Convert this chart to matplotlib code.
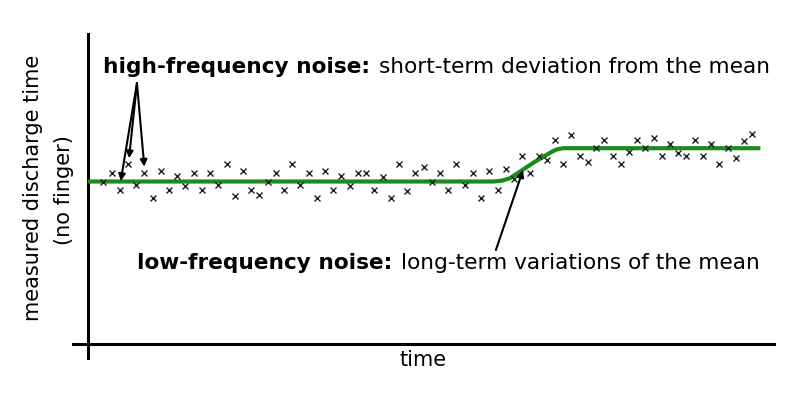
import numpy as np
import matplotlib
matplotlib.use("Agg")
import matplotlib.pyplot as plt

times = np.arange(80)
values = [20.0, 21.1, 19.0, 22.1, 19.6, 21.1, 18.0, 21.3, 19.0, 20.7,
          19.4, 21.1, 19.0, 21.1, 19.6, 22.1, 18.2, 21.3, 19.0, 18.3,
          20.0, 21.1, 19.0, 22.1, 19.6, 21.1, 18.0, 21.3, 19.0, 20.7,
          19.4, 21.1, 21.1, 19.0, 20.6, 18.0, 22.1, 18.8, 21.0, 21.8,
          20.0, 21.1, 19.0, 22.1, 19.6, 21.1, 18.0, 21.3, 19.0, 21.6,
          20.3, 23.1, 21.1, 23.1, 22.6, 25.1, 22.1, 25.7, 23.2, 22.4,
          24.1, 25.1, 23.1, 22.1, 23.6, 25.1, 24.1, 25.4, 23.1, 24.6,
          23.5, 23.1, 25.1, 23.1, 24.6, 22.1, 24.1, 22.9, 25.0, 25.8]

# drawn mean (low-frequency trend)
mean_t = [-1.9, 47.5, 48.5, 49.5, 51.0, 52.5, 53.5, 54.5, 55.2, 56.0, 80.0]
mean_v = [20.0, 20.0, 20.1, 20.4, 21.4, 22.4, 23.0, 23.6, 23.95, 24.1, 24.1]

W, H = 797, 397
fig = plt.figure(figsize=(W / 100, H / 100), dpi=100)
ax = fig.add_axes([72 / W, 37 / H, 704 / W, 327 / H])
ax.set_xlim(-3.81, 81.9)
ax.set_ylim(-1.97, 38.28)
ax.axis("off")

ax.axhline(0, color="black", lw=2.2)
ax.axvline(-1.86, color="black", lw=2.2)

ax.plot(times, values, "x", color="#222222", ms=5, mew=1.0, zorder=3)
ax.plot(mean_t, mean_v, color="#1e8a1e", lw=3, zorder=2, solid_capstyle="butt")

# arrows
arr = dict(arrowstyle="-|>", color="black", lw=1.5, mutation_scale=10, shrinkA=0, shrinkB=0)
for tip in [(2.12, 20.06), (3.13, 22.86), (4.99, 21.82)]:
    ax.annotate("", xy=tip, xytext=(4.1, 32.1), arrowprops=arr)
ax.annotate("", xy=(51.1, 21.4), xytext=(47.8, 11.57), arrowprops=arr)

fs = 15.6
fig.canvas.draw()
r = fig.canvas.get_renderer()


def label(x, y, bold, rest):
    t1 = fig.text(x / W, 1 - y / H, bold, fontsize=fs, fontweight="bold", va="baseline")
    bb = t1.get_window_extent(r)
    fig.text((bb.x1 + 9) / W, 1 - y / H, rest, fontsize=fs, va="baseline")


label(103, 73, "high-frequency noise:", "short-term deviation from the mean")
label(137, 269, "low-frequency noise:", "long-term variations of the mean")

fig.text(423 / W, 1 - 360 / H, "time", fontsize=15, ha="center", va="center")
fig.text(33 / W, 1 - 188 / H, "measured discharge time", fontsize=15,
         rotation=90, ha="center", va="center")
fig.text(64 / W, 1 - 190 / H, "(no finger)", fontsize=15,
         rotation=90, ha="center", va="center")

fig.savefig("out.png", dpi=100)
